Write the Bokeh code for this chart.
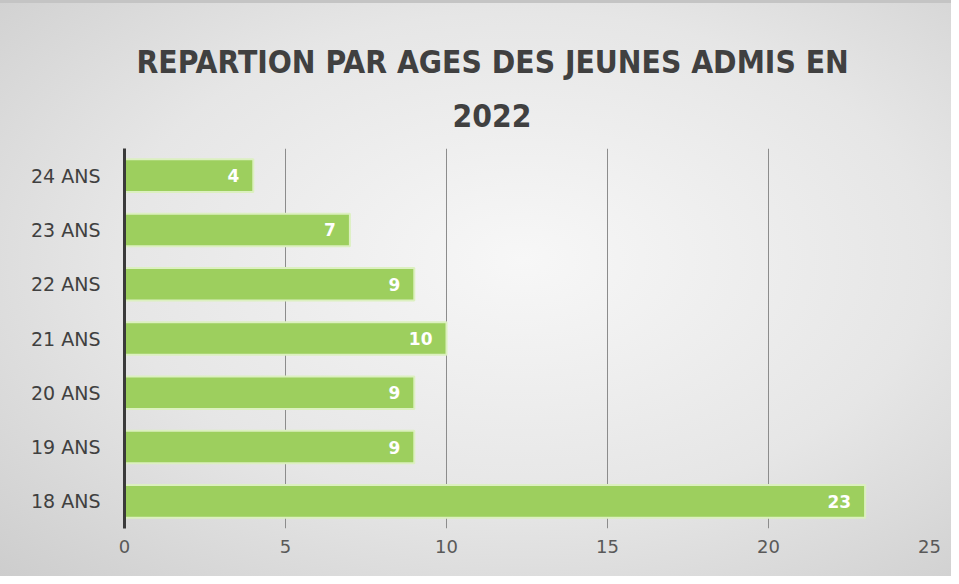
from bokeh.plotting import figure
from bokeh.models import ColumnDataSource, Title, FixedTicker, LabelSet
from bokeh.embed import file_html
from bokeh.resources import INLINE
from bokeh.core.properties import value

categories = ["18 ANS", "19 ANS", "20 ANS", "21 ANS", "22 ANS", "23 ANS", "24 ANS"]
counts = [23, 9, 9, 10, 9, 7, 4]
x_ticks = [0, 5, 10, 15, 20, 25]
title_line1 = "REPARTION PAR AGES DES JEUNES ADMIS EN"
title_line2 = "2022"

source = ColumnDataSource(dict(cat=categories, val=counts, lab=[str(v) for v in counts]))

p = figure(y_range=categories, x_range=(0, 25), width=951, height=576,
           output_backend="svg", toolbar_location=None, title=None,
           min_border_left=124, min_border_right=22, min_border_bottom=48, min_border_top=148)

p.styles = {"background": "radial-gradient(ellipse at 55% 45%, #f7f7f7 0%, #e6e6e6 55%, #cdcdcd 100%)",
            "box-shadow": "inset 0 3px 0 #c4c4c4"}
p.border_fill_alpha = 0
p.background_fill_alpha = 0
p.outline_line_color = None

t2 = Title(text=title_line2, align="left", text_font="DejaVu Sans Condensed",
           text_font_size="31.5px", text_font_style="bold", text_color="#404040",
           standoff=44, offset=328, text_line_height=0.92)
t1 = Title(text=title_line1, align="left", text_font="DejaVu Sans Condensed",
           text_font_size="31.5px", text_font_style="bold", text_color="#404040",
           standoff=0, offset=12, text_line_height=0.92)
p.add_layout(t2, "above")
p.add_layout(t1, "above")

p.hbar(y="cat", right="val", left=0, height=0.6, source=source,
       fill_color="#9dcf5e", line_color="#dcf0c0", line_width=2)

labels = LabelSet(x="val", y="cat", text="lab", source=source, x_offset=-14,
                  text_align="right", text_baseline="middle", text_color="white",
                  text_font=value("DejaVu Sans"), text_font_style="bold", text_font_size="17px")
p.add_layout(labels)

p.xaxis.ticker = FixedTicker(ticks=x_ticks)
p.xaxis.axis_line_color = None
p.xaxis.major_tick_line_color = None
p.xaxis.minor_tick_line_color = None
p.xaxis.major_label_text_font = "DejaVu Sans"
p.xaxis.major_label_text_font_size = "18px"
p.xaxis.major_label_text_color = "#595959"
p.xaxis.major_label_standoff = 5

p.yaxis.axis_line_color = "#3a3a3a"
p.yaxis.axis_line_width = 3
p.yaxis.major_tick_line_color = None
p.yaxis.minor_tick_line_color = None
p.yaxis.major_label_text_font = "DejaVu Sans"
p.yaxis.major_label_text_font_size = "19px"
p.yaxis.major_label_text_color = "#404040"
p.yaxis.major_label_standoff = 18

p.ygrid.grid_line_color = None
p.xgrid.grid_line_color = "#8c8c8c"
p.xgrid.grid_line_width = 1

open("out.html", "w").write(file_html(p, INLINE))
